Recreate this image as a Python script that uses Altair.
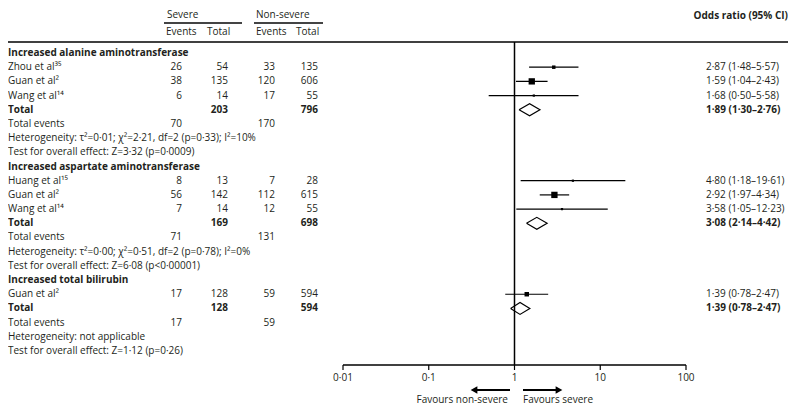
import altair as alt
import pandas as pd

FONT = "Open Sans"
TXT = "#231f20"
FS = 10

# ---------------- data ----------------
sections = ["Increased alanine aminotransferase",
            "Increased aspartate aminotransferase",
            "Increased total bilirubin"]
study_names = ["Zhou et al³⁵", "Guan et al²", "Wang et al¹⁴",
               "Huang et al¹⁵", "Guan et al²", "Wang et al¹⁴",
               "Guan et al²"]
study_section = [0, 0, 0, 1, 1, 1, 2]
sev_events = [26, 38, 6, 8, 56, 7, 17]
sev_total = [54, 135, 14, 13, 142, 14, 128]
non_events = [33, 120, 17, 7, 112, 12, 59]
non_total = [135, 606, 55, 28, 615, 55, 594]
or_est = [2.87, 1.59, 1.68, 4.80, 2.92, 3.58, 1.39]
or_lo = [1.48, 1.04, 0.50, 1.18, 1.97, 1.05, 0.78]
or_hi = [5.57, 2.43, 5.58, 19.61, 4.34, 12.23, 2.47]
square_area = [12, 40, 5, 5, 40, 5, 20]

tot_sev = [203, 169, 128]
tot_non = [796, 698, 594]
ev_sev = [70, 71, 17]
ev_non = [170, 131, 59]
pool_or = [1.89, 3.08, 1.39]
pool_lo = [1.30, 2.14, 0.78]
pool_hi = [2.76, 4.42, 2.47]
# pooled diamonds as drawn in the reference (left, centre, right)
dia_left = [1.13, 1.38, 0.90]
dia_mid = [1.50, 1.82, 1.16]
dia_right = [1.98, 2.40, 1.51]
heterogeneity = ["Heterogeneity: τ²=0·01; χ²=2·21, df=2 (p=0·33); I²=10%",
                 "Heterogeneity: τ²=0·00; χ²=0·51, df=2 (p=0·78); I²=0%",
                 "Heterogeneity: not applicable"]
overall = ["Test for overall effect: Z=3·32 (p=0·0009)",
           "Test for overall effect: Z=6·08 (p<0·00001)",
           "Test for overall effect: Z=1·12 (p=0·26)"]
axis_ticks = [0.01, 0.1, 1, 10, 100]
axis_labels = ["0·01", "0·1", "1", "10", "100"]


def f2(v):
    return f"{v:.2f}".replace(".", "·")


def ortxt(e, l, h):
    return f"{f2(e)} ({f2(l)}–{f2(h)})"


# ---------------- build table ----------------
cells = []
st_rows, pool_rows = [], []
r = 0
for s, name in enumerate(sections):
    cells.append(dict(rw=r, col="label", text=name, bold=1)); r += 1
    for i in [j for j in range(len(study_names)) if study_section[j] == s]:
        cells += [dict(rw=r, col="label", text=study_names[i], bold=0),
                  dict(rw=r, col="se", text=str(sev_events[i]), bold=0),
                  dict(rw=r, col="st", text=str(sev_total[i]), bold=0),
                  dict(rw=r, col="ne", text=str(non_events[i]), bold=0),
                  dict(rw=r, col="nt", text=str(non_total[i]), bold=0),
                  dict(rw=r, col="or", text=ortxt(or_est[i], or_lo[i], or_hi[i]), bold=0)]
        st_rows.append(dict(rw=r, est=or_est[i], lo=or_lo[i], hi=or_hi[i], sz=square_area[i]))
        r += 1
    cells += [dict(rw=r, col="label", text="Total", bold=1),
              dict(rw=r, col="st", text=str(tot_sev[s]), bold=1),
              dict(rw=r, col="nt", text=str(tot_non[s]), bold=1),
              dict(rw=r, col="or", text=ortxt(pool_or[s], pool_lo[s], pool_hi[s]), bold=1)]
    pool_rows.append(r)
    r += 1
    cells += [dict(rw=r, col="label", text="Total events", bold=0),
              dict(rw=r, col="se", text=str(ev_sev[s]), bold=0),
              dict(rw=r, col="ne", text=str(ev_non[s]), bold=0)]
    r += 1
    cells.append(dict(rw=r, col="label", text=heterogeneity[s], bold=0)); r += 1
    cells.append(dict(rw=r, col="label", text=overall[s], bold=0)); r += 1

cells = pd.DataFrame(cells)
studies = pd.DataFrame(st_rows)

dia = []
H = 0.42
for s in range(len(sections)):
    y0 = pool_rows[s]
    pts = [(dia_left[s], y0), (dia_mid[s], y0 - H), (dia_right[s], y0),
           (dia_mid[s], y0 + H), (dia_left[s], y0)]
    for k, (xv, yv) in enumerate(pts):
        dia.append(dict(grp=s, ord=k, xv=xv, yv=yv))
dia = pd.DataFrame(dia)

ticks = pd.DataFrame({"t": axis_ticks, "lab": axis_labels})

# ---------------- scales ----------------
W, HH = 780, 397
xscale = alt.Scale(type="log", domain=[0.01, 100], range=[335, 678], nice=False)
yscale = alt.Scale(domain=[0, 21], range=[45, 343], nice=False, zero=False)

colspec = {"label": (0, "left"), "se": (174, "right"), "st": (220, "right"),
           "ne": (267, "right"), "nt": (310, "right"), "or": (698, "left")}

layers = []
for col, (xpos, al) in colspec.items():
    for b in (0, 1):
        sub = cells[(cells["col"] == col) & (cells["bold"] == b)].reset_index(drop=True)
        if len(sub) == 0:
            continue
        layers.append(
            alt.Chart(sub).mark_text(
                align=al, baseline="middle", font=FONT, fontSize=FS,
                fontWeight="bold" if b else "normal", color=TXT
            ).encode(x=alt.value(xpos), y=alt.Y("rw:Q", scale=yscale, axis=None), text="text:N")
        )

one = pd.DataFrame({"a": [0]})


def txt(s, x, y, align="left", bold=False, size=FS):
    return alt.Chart(one).mark_text(
        align=align, baseline="middle", font=FONT, fontSize=size,
        fontWeight="bold" if bold else "normal", color=TXT, text=s
    ).encode(x=alt.value(x), y=alt.value(y))


def hline(x1, x2, y, w=1.5, color="black"):
    return alt.Chart(one).mark_rule(color=color, strokeWidth=w).encode(
        x=alt.value(x1), x2=alt.value(x2), y=alt.value(y))


# headers
layers += [
    txt("Severe", 159, 7),
    txt("Non-severe", 248, 7),
    txt("Events", 158, 24), txt("Total", 199, 24),
    txt("Events", 248, 24), txt("Total", 288, 24),
    txt("Odds ratio (95% CI)", 780, 8, align="right", bold=True),
    hline(156, 234, 15, w=2, color="#444"),
    hline(246, 315, 15, w=2, color="#444"),
    hline(0, 780, 34, w=1.5),
]

ci = alt.Chart(studies).mark_rule(color="black", strokeWidth=1.2).encode(
    x=alt.X("lo:Q", scale=xscale, axis=None),
    x2="hi:Q",
    y=alt.Y("rw:Q", scale=yscale, axis=None),
)
sq = alt.Chart(studies).mark_square(filled=True, color="black", opacity=1).encode(
    x=alt.X("est:Q", scale=xscale, axis=None),
    y=alt.Y("rw:Q", scale=yscale, axis=None),
    size=alt.Size("sz:Q", scale=alt.Scale(domain=[0, 40], range=[0, 40]), legend=None),
)
dmd = alt.Chart(dia).mark_line(color="black", strokeWidth=1.2).encode(
    x=alt.X("xv:Q", scale=xscale, axis=None),
    y=alt.Y("yv:Q", scale=yscale, axis=None),
    detail="grp:N",
    order="ord:Q",
)
vline = alt.Chart(ticks[ticks["t"] == 1]).mark_rule(color="black", strokeWidth=1.5).encode(
    x=alt.X("t:Q", scale=xscale, axis=None), y=alt.value(34), y2=alt.value(357))

# manual x axis drawn through the x scale
axis_line = alt.Chart(pd.DataFrame({"a": [axis_ticks[0]], "b": [axis_ticks[-1]]})).mark_rule(
    color="black", strokeWidth=1.5).encode(
    x=alt.X("a:Q", scale=xscale, axis=None), x2="b:Q", y=alt.value(357))
axis_tk = alt.Chart(ticks).mark_rule(color="black", strokeWidth=1.2).encode(
    x=alt.X("t:Q", scale=xscale, axis=None), y=alt.value(357), y2=alt.value(362))
axis_lb = alt.Chart(ticks).mark_text(
    align="center", baseline="middle", font=FONT, fontSize=FS, color=TXT).encode(
    x=alt.X("t:Q", scale=xscale, axis=None), y=alt.value(370), text="lab:N")

# arrows
arrows = [
    hline(468, 502, 382, w=2),
    hline(515, 549, 382, w=2),
    alt.Chart(one).mark_point(shape="triangle-left", filled=True, size=60, color="black",
                              opacity=1).encode(x=alt.value(466), y=alt.value(382)),
    alt.Chart(one).mark_point(shape="triangle-right", filled=True, size=60, color="black",
                              opacity=1).encode(x=alt.value(551), y=alt.value(382)),
    txt("Favours non-severe", 500, 392, align="right"),
    txt("Favours severe", 515, 392, align="left"),
]

chart = alt.layer(ci, vline, sq, dmd, axis_line, axis_tk, axis_lb, *layers, *arrows).properties(
    width=W, height=HH, padding=0, autosize="none"
).configure_view(stroke=None)

chart.save("out.html", embed_options={"renderer": "svg", "actions": False})
